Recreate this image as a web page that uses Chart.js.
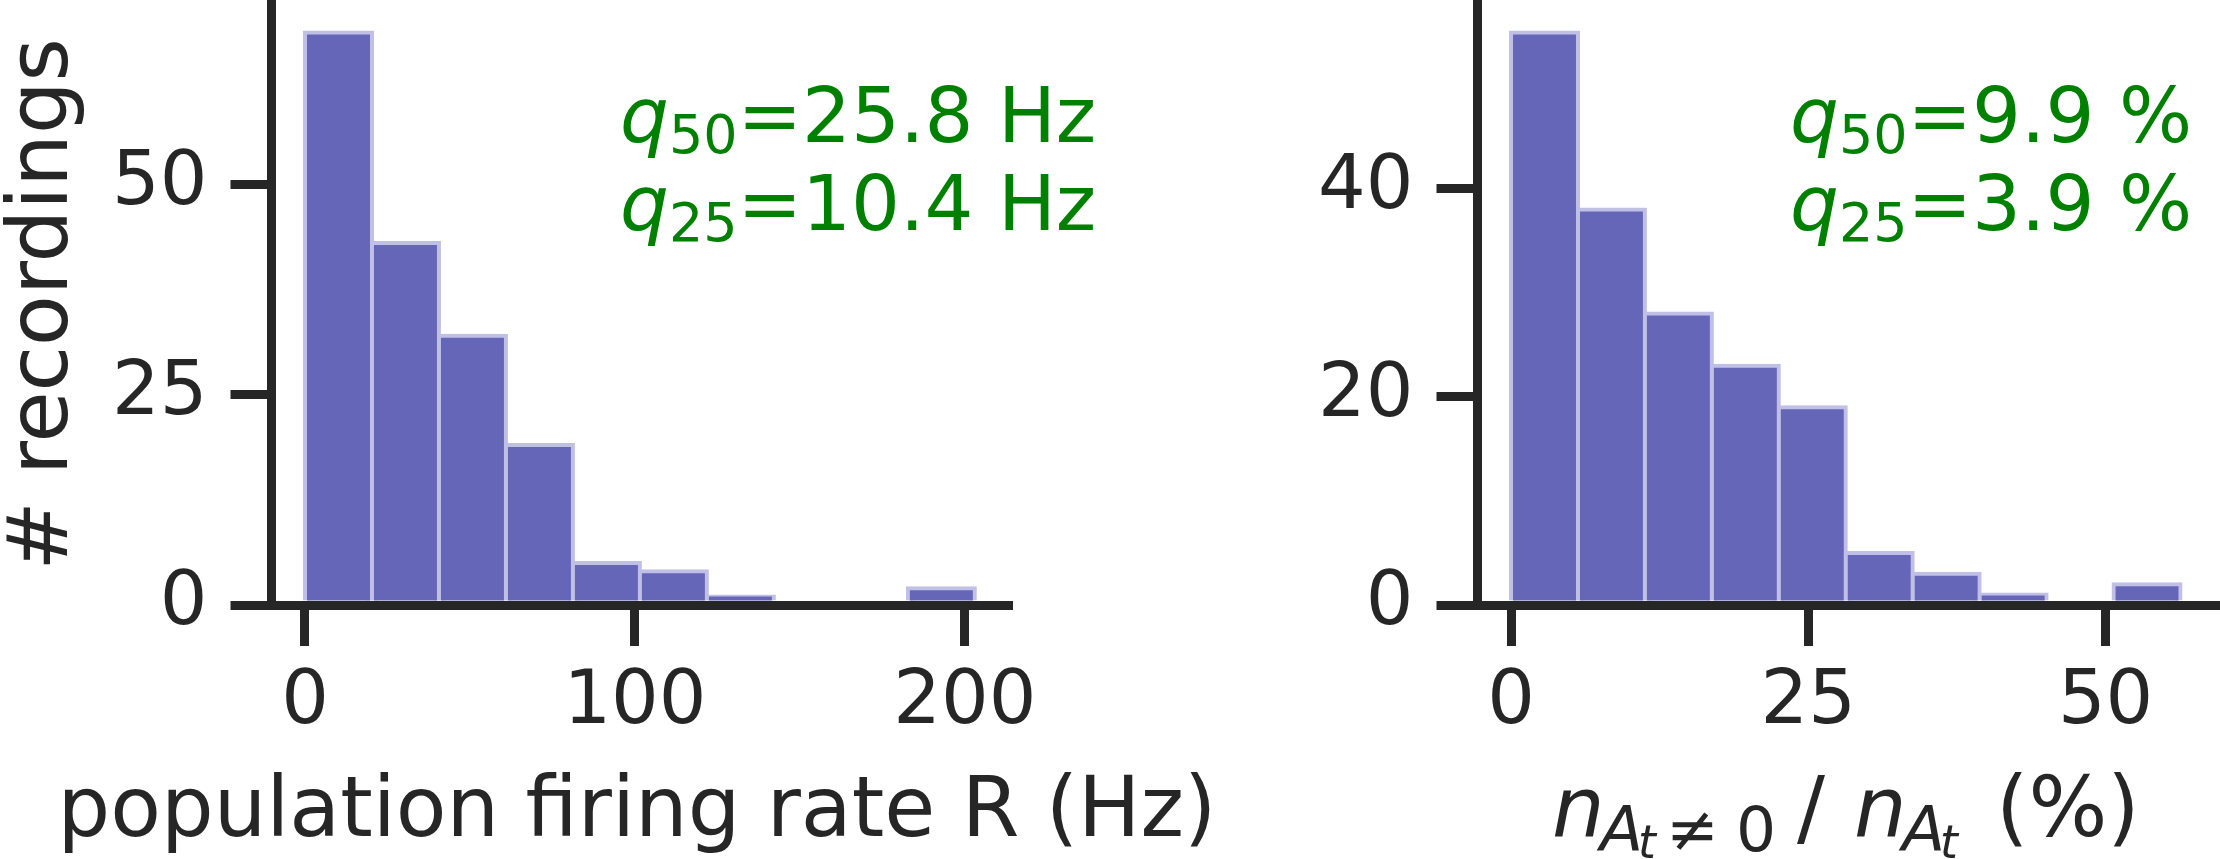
<!DOCTYPE html>
<html>
<head>
<meta charset="utf-8">
<script src="https://cdn.jsdelivr.net/npm/chart.js@4.4.1/dist/chart.umd.min.js"></script>
<style>
  html, body { margin: 0; padding: 0; background: #fff; }
  #wrap { position: relative; width: 2220px; height: 859px; }
  #wrap canvas { position: absolute; left: 0; top: 0; }
</style>
</head>
<body>
<div id="wrap">
  <canvas id="chartRate" width="2220" height="859"></canvas>
  <canvas id="chartFrac" width="2220" height="859"></canvas>
</div>
<script>
// ─── Data ─────────────────────────────────────────────────────────────────────

const RATE_BIN_EDGES = [0, 20.3, 40.6, 60.9, 81.2, 101.5, 121.8, 142.1, 162.4, 182.7, 203];
const RATE_COUNTS    = [68, 43, 32, 19, 5, 4, 1, 0, 0, 2];
const RATE_X_TICKS   = [0, 100, 200];
const RATE_Y_TICKS   = [0, 25, 50];
const RATE_X_RANGE   = [-10.15, 213.2];
const RATE_Y_MAX     = 71.4;
const RATE_QUANTILES = [["50", "=25.8 Hz"], ["25", "=10.4 Hz"]];

const FRAC_BIN_EDGES = [0, 5.63, 11.26, 16.89, 22.52, 28.15, 33.78, 39.41, 45.04, 50.67, 56.3];
const FRAC_COUNTS    = [55, 38, 28, 23, 19, 5, 3, 1, 0, 2];
const FRAC_X_TICKS   = [0, 25, 50];
const FRAC_Y_TICKS   = [0, 20, 40];
const FRAC_X_RANGE   = [-2.82, 59.2];
const FRAC_Y_MAX     = 57.75;
const FRAC_QUANTILES = [["50", "=9.9 %"], ["25", "=3.9 %"]];

// ─── Style ────────────────────────────────────────────────────────────────────

const INK        = "#262626";
const BAR_FILL   = "rgb(102,102,184)";
const BAR_EDGE   = "rgb(192,192,230)";
const NOTE_GREEN = "#008000";
const FONT       = "'DejaVu Sans'";
const TICK_SIZE  = 75;
const NOTE_SIZE  = 77;
const LABEL_SIZE = 83;

Chart.defaults.font.family = FONT;
Chart.defaults.color = INK;

// ─── Helpers ──────────────────────────────────────────────────────────────────

const histPoints = (edges, counts) =>
  counts.map((c, i) => ({ x: (edges[i] + edges[i + 1]) / 2, y: c }));

// runs: { text, size, italic, dy, at } – drawn left to right, "at" pins an offset
function drawRuns(ctx, x0, y, runs, color) {
  ctx.save();
  ctx.fillStyle = color;
  ctx.textAlign = "left";
  ctx.textBaseline = "alphabetic";
  let x = x0;
  for (const r of runs) {
    ctx.font = `${r.italic ? "italic " : ""}${r.size}px ${FONT}`;
    if (r.at != null) x = x0 + r.at;
    ctx.fillText(r.text, x, y + (r.dy || 0));
    x += ctx.measureText(r.text).width;
  }
  ctx.restore();
}

function quantileNotes(x, quantiles) {
  return {
    id: "quantileNotes",
    afterDraw(chart) {
      quantiles.forEach(([sub, rest], i) => {
        drawRuns(chart.ctx, x, 142 + i * 88, [
          { text: "q", size: NOTE_SIZE, italic: true },
          { text: sub, size: NOTE_SIZE * 0.7, dy: 11 },
          { text: rest, size: NOTE_SIZE },
        ], NOTE_GREEN);
      });
    },
  };
}

function xScale(range, ticks, fitHeight) {
  return {
    type: "linear",
    min: range[0],
    max: range[1],
    offset: false,
    afterBuildTicks: (s) => { s.ticks = ticks.map((v) => ({ value: v })); },
    afterFit: (s) => { s.height = fitHeight; s.paddingLeft = 0; s.paddingRight = 0; },
    grid: { offset: false, drawOnChartArea: false, tickLength: 41, tickWidth: 9, tickColor: INK, lineWidth: 9 },
    border: { display: true, width: 9, color: INK, z: 1 },
    ticks: { padding: 13, maxRotation: 0, autoSkip: false, color: INK, font: { size: TICK_SIZE } },
  };
}

function yScale(max, ticks, fitWidth, title) {
  return {
    min: 0,
    max,
    afterBuildTicks: (s) => { s.ticks = ticks.map((v) => ({ value: v })); },
    afterFit: (s) => { s.width = fitWidth; s.paddingTop = 0; s.paddingBottom = 0; },
    grid: { drawOnChartArea: false, tickLength: 41, tickWidth: 9, tickColor: INK, lineWidth: 9 },
    border: { display: true, width: 9, color: INK, z: 1 },
    ticks: { padding: 23, autoSkip: false, color: INK, font: { size: TICK_SIZE } },
    title: title
      ? { display: true, text: title, color: INK, font: { size: LABEL_SIZE, lineHeight: 1 }, padding: { top: 4, bottom: 0 } }
      : { display: false },
  };
}

function buildDataset(points) {
  return {
    data: points,
    backgroundColor: BAR_FILL,
    borderColor: BAR_EDGE,
    borderWidth: 4,
    inflateAmount: 2,
    barPercentage: 1,
    categoryPercentage: 1,
  };
}

const baseOptions = {
  responsive: false,
  animation: false,
  devicePixelRatio: 1,
  plugins: { legend: { display: false }, tooltip: { enabled: false } },
};

// ─── Chart 1 – firing rate ────────────────────────────────────────────────────

const rateLabel = {
  id: "rateLabel",
  afterDraw(chart) {
    const { ctx, chartArea } = chart;
    ctx.save();
    ctx.fillStyle = INK;
    ctx.font = `${LABEL_SIZE}px ${FONT}`;
    ctx.textAlign = "center";
    ctx.textBaseline = "alphabetic";
    ctx.fillText("population firing rate R (Hz)", (chartArea.left + chartArea.right) / 2 - 3, 836);
    ctx.restore();
  },
};

new Chart(document.getElementById("chartRate"), {
  type: "bar",
  data: { datasets: [buildDataset(histPoints(RATE_BIN_EDGES, RATE_COUNTS))] },
  options: {
    ...baseOptions,
    layout: { padding: { left: 0, right: 2220 - 1008.5, top: 4, bottom: 0 } },
    scales: {
      x: xScale(RATE_X_RANGE, RATE_X_TICKS, 859 - 605),
      y: yScale(RATE_Y_MAX, RATE_Y_TICKS, 271.5, "# recordings"),
    },
  },
  plugins: [quantileNotes(620, RATE_QUANTILES), rateLabel],
});

// ─── Chart 2 – active fraction ────────────────────────────────────────────────

const fracLabel = {
  id: "fracLabel",
  afterDraw(chart) {
    const S = LABEL_SIZE, s = LABEL_SIZE * 0.76, ss = LABEL_SIZE * 0.55;
    drawRuns(chart.ctx, 1552, 836, [
      { text: "n", size: S, italic: true, at: 0 },
      { text: "A", size: s, italic: true, dy: 15, at: 48 },
      { text: "t", size: ss, italic: true, dy: 22, at: 86 },
      { text: "≠", size: s, dy: 15, at: 114 },
      { text: "0", size: s, dy: 15, at: 184 },
      { text: "/", size: S, at: 245 },
      { text: "n", size: S, italic: true, at: 302 },
      { text: "A", size: s, italic: true, dy: 15, at: 350 },
      { text: "t", size: ss, italic: true, dy: 22, at: 388 },
      { text: "(%)", size: S, at: 444 },
    ], INK);
  },
};

new Chart(document.getElementById("chartFrac"), {
  type: "bar",
  data: { datasets: [buildDataset(histPoints(FRAC_BIN_EDGES, FRAC_COUNTS))] },
  options: {
    ...baseOptions,
    layout: { padding: { left: 1250, right: 5, top: 4, bottom: 0 } },
    scales: {
      x: xScale(FRAC_X_RANGE, FRAC_X_TICKS, 859 - 605),
      y: yScale(FRAC_Y_MAX, FRAC_Y_TICKS, 1477.5 - 1250, null),
    },
  },
  plugins: [quantileNotes(1790, FRAC_QUANTILES), fracLabel],
});
</script>
</body>
</html>
